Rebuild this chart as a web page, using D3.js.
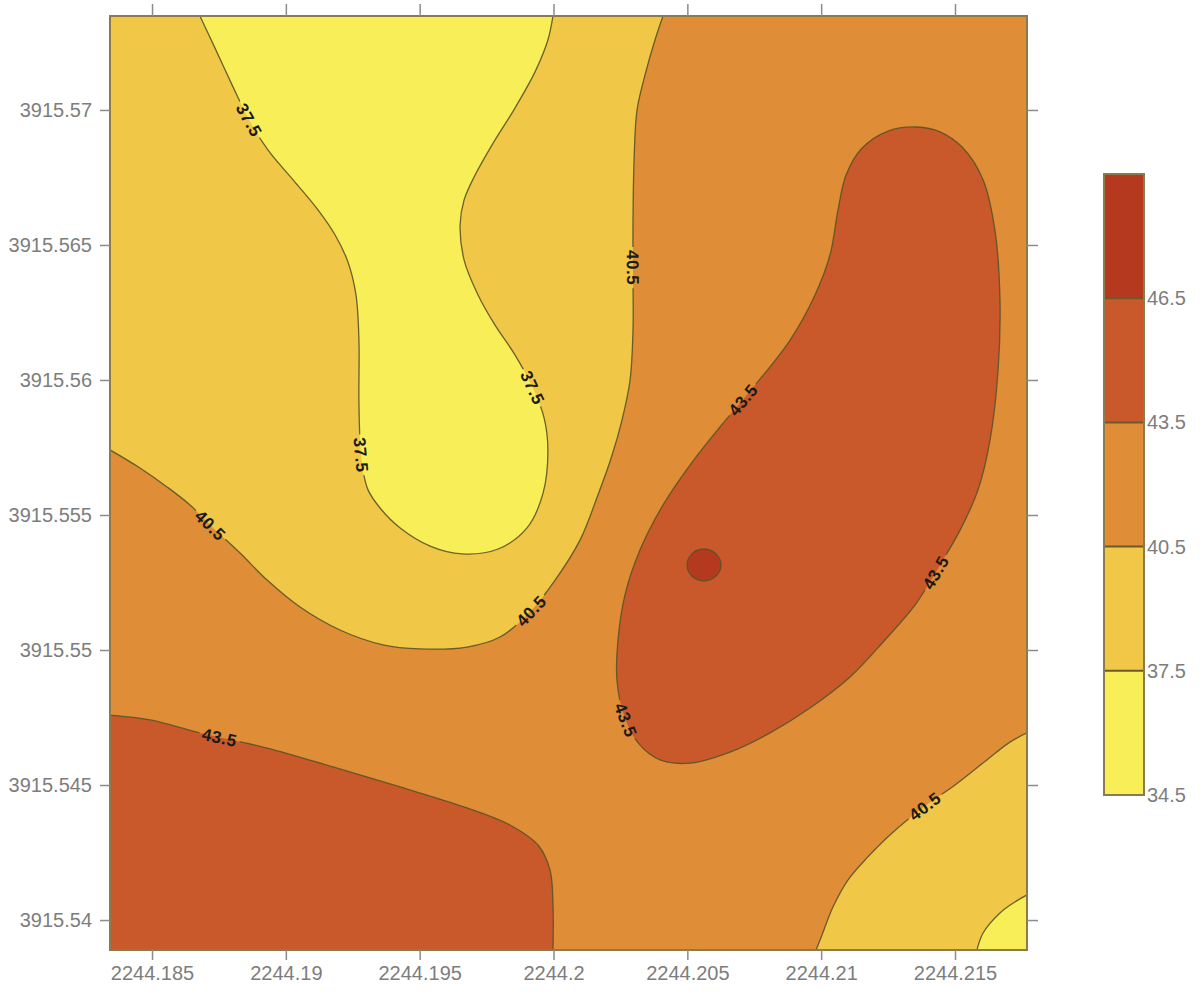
<!DOCTYPE html>
<html>
<head>
<meta charset="utf-8">
<script src="https://cdn.jsdelivr.net/npm/d3@7"></script>
<style>
  body { margin: 0; background: #ffffff; }
  svg { display: block; }
</style>
</head>
<body>
<svg id="chart" width="1204" height="994"></svg>
<script>
// ---- Survey extent (easting / northing, km) ----
const eastExtent = [2244.18343, 2244.21769];
const northExtent = [3915.53889, 3915.57348];

const eastTicks = [2244.185, 2244.19, 2244.195, 2244.2, 2244.205, 2244.21, 2244.215];
const eastTickLabels = ["2244.185", "2244.19", "2244.195", "2244.2", "2244.205", "2244.21", "2244.215"];
const northTicks = [3915.54, 3915.545, 3915.55, 3915.555, 3915.56, 3915.565, 3915.57];
const northTickLabels = ["3915.54", "3915.545", "3915.55", "3915.555", "3915.56", "3915.565", "3915.57"];

// ---- Contour classes ----
const levels = [34.5, 37.5, 40.5, 43.5, 46.5, 49.5];
const levelLabels = ["34.5", "37.5", "40.5", "43.5", "46.5"];
const bandColors = ["#f8ee57", "#f1c748", "#df8d36", "#c9592b", "#b5391f"];

// ---- Contour lines, [easting, northing] ----
// 37.5 line around the low in the north
const contour375North = [
  [2244.18679, 3915.57348], [2244.18735, 3915.57230], [2244.18799, 3915.57093],
  [2244.18859, 3915.56970], [2244.18933, 3915.56852], [2244.19034, 3915.56733],
  [2244.19120, 3915.56630], [2244.19184, 3915.56537], [2244.19232, 3915.56437],
  [2244.19262, 3915.56315], [2244.19273, 3915.56148], [2244.19273, 3915.55926],
  [2244.19277, 3915.55778], [2244.19288, 3915.55667], [2244.19307, 3915.55593],
  [2244.19352, 3915.55526], [2244.19427, 3915.55452], [2244.19539, 3915.55385],
  [2244.19658, 3915.55356], [2244.19793, 3915.55374], [2244.19901, 3915.55452],
  [2244.19961, 3915.55581], [2244.19979, 3915.55741], [2244.19965, 3915.55859],
  [2244.19923, 3915.55970], [2244.19856, 3915.56093], [2244.19781, 3915.56204],
  [2244.19718, 3915.56315], [2244.19666, 3915.56444], [2244.19651, 3915.56574],
  [2244.19666, 3915.56667], [2244.19707, 3915.56759], [2244.19770, 3915.56870],
  [2244.19856, 3915.57007], [2244.19931, 3915.57141], [2244.19979, 3915.57259],
  [2244.19998, 3915.57348]
];
// 40.5 line bounding the north-west low
const contour405North = [
  [2244.18343, 3915.55741], [2244.18455, 3915.55674], [2244.18556, 3915.55604],
  [2244.18642, 3915.55537], [2244.18724, 3915.55456], [2244.18829, 3915.55359],
  [2244.18930, 3915.55259], [2244.19053, 3915.55159], [2244.19202, 3915.55074],
  [2244.19363, 3915.55019], [2244.19501, 3915.55004], [2244.19677, 3915.55011],
  [2244.19800, 3915.55048], [2244.19912, 3915.55141], [2244.20006, 3915.55259],
  [2244.20099, 3915.55407], [2244.20166, 3915.55574], [2244.20219, 3915.55722],
  [2244.20256, 3915.55852], [2244.20286, 3915.56000], [2244.20297, 3915.56185],
  [2244.20297, 3915.56370], [2244.20297, 3915.56593], [2244.20301, 3915.56815],
  [2244.20312, 3915.57000], [2244.20342, 3915.57130], [2244.20379, 3915.57259],
  [2244.20409, 3915.57348]
];
// 43.5 line around the south-west high
const contour435SouthWest = [
  [2244.18343, 3915.54759], [2244.18493, 3915.54741], [2244.18679, 3915.54693],
  [2244.18930, 3915.54637], [2244.19176, 3915.54567], [2244.19427, 3915.54493],
  [2244.19677, 3915.54415], [2244.19837, 3915.54352], [2244.19942, 3915.54278],
  [2244.19987, 3915.54185], [2244.19998, 3915.54056], [2244.19998, 3915.53889]
];
// 43.5 closed line around the eastern high
const contour435East = [
  [2244.21358, 3915.56937], [2244.21444, 3915.56919], [2244.21530, 3915.56859],
  [2244.21605, 3915.56741], [2244.21649, 3915.56556], [2244.21668, 3915.56296],
  [2244.21661, 3915.56037], [2244.21631, 3915.55778], [2244.21586, 3915.55593],
  [2244.21519, 3915.55444], [2244.21444, 3915.55315], [2244.21351, 3915.55167],
  [2244.21238, 3915.55037], [2244.21108, 3915.54900], [2244.20958, 3915.54785],
  [2244.20809, 3915.54693], [2244.20659, 3915.54622], [2244.20510, 3915.54581],
  [2244.20398, 3915.54593], [2244.20316, 3915.54656], [2244.20263, 3915.54759],
  [2244.20237, 3915.54889], [2244.20241, 3915.55037], [2244.20267, 3915.55204],
  [2244.20323, 3915.55370], [2244.20409, 3915.55537], [2244.20510, 3915.55685],
  [2244.20622, 3915.55826], [2244.20753, 3915.55981], [2244.20884, 3915.56148],
  [2244.20977, 3915.56315], [2244.21033, 3915.56463], [2244.21063, 3915.56630],
  [2244.21093, 3915.56759], [2244.21153, 3915.56859], [2244.21250, 3915.56922]
];
// 46.5 closed line, peak inside the eastern high
const contour465Peak = [
  [2244.20562, 3915.55374], [2244.20607, 3915.55356], [2244.20626, 3915.55315],
  [2244.20607, 3915.55274], [2244.20562, 3915.55256], [2244.20517, 3915.55274],
  [2244.20499, 3915.55315], [2244.20517, 3915.55356]
];
// 40.5 line across the south-east corner
const contour405SouthEast = [
  [2244.20981, 3915.53889], [2244.21003, 3915.53944], [2244.21044, 3915.54048],
  [2244.21100, 3915.54148], [2244.21171, 3915.54230], [2244.21257, 3915.54315],
  [2244.21388, 3915.54422], [2244.21500, 3915.54500], [2244.21619, 3915.54593],
  [2244.21705, 3915.54659], [2244.21769, 3915.54693]
];
// 37.5 line cutting the south-east corner
const contour375SouthEast = [
  [2244.21582, 3915.53889], [2244.21605, 3915.53952], [2244.21668, 3915.54026],
  [2244.21724, 3915.54067], [2244.21769, 3915.54093]
];

// Contour labels placed along the lines
const contourLabels = [
  { text: "37.5", e: 2244.18851, n: 3915.56956 },
  { text: "37.5", e: 2244.19277, n: 3915.55722 },
  { text: "37.5", e: 2244.19916, n: 3915.55970 },
  { text: "40.5", e: 2244.20297, n: 3915.56415 },
  { text: "40.5", e: 2244.18720, n: 3915.55463 },
  { text: "40.5", e: 2244.19912, n: 3915.55148 },
  { text: "43.5", e: 2244.18754, n: 3915.54678 },
  { text: "43.5", e: 2244.20719, n: 3915.55919 },
  { text: "43.5", e: 2244.21414, n: 3915.55296 },
  { text: "43.5", e: 2244.20275, n: 3915.54741 },
  { text: "40.5", e: 2244.21388, n: 3915.54422 }
];

// ---- Layout ----
const plot = { left: 110, right: 1027, top: 16, bottom: 950 };
const bar = { left: 1104, width: 40, top: 174, bottom: 795 };

const x = d3.scaleLinear().domain(eastExtent).range([plot.left, plot.right]);
const y = d3.scaleLinear().domain(northExtent).range([plot.bottom, plot.top]);

const svg = d3.select("#chart");
const defs = svg.append("defs");
defs.append("clipPath").attr("id", "plot-clip")
  .append("rect")
  .attr("x", plot.left).attr("y", plot.top)
  .attr("width", plot.right - plot.left).attr("height", plot.bottom - plot.top);

const openLine = d3.line().x(d => x(d[0])).y(d => y(d[1])).curve(d3.curveCatmullRom.alpha(0.5));
const closedLine = d3.line().x(d => x(d[0])).y(d => y(d[1])).curve(d3.curveCatmullRomClosed.alpha(0.5));

const W = eastExtent[0], E = eastExtent[1], S = northExtent[0], N = northExtent[1];

// Filled bands: each region is a contour plus the frame corners that close it
const regions = [
  { pts: contour405North, band: 1, corners: [[W, N]] },
  { pts: contour405SouthEast, band: 1, corners: [[E, S]] },
  { pts: contour375North, band: 0, corners: [] },
  { pts: contour375SouthEast, band: 0, corners: [[E, S]] },
  { pts: contour435SouthWest, band: 3, corners: [[W, S]] },
  { pts: contour435East, band: 3, closed: true },
  { pts: contour465Peak, band: 4, closed: true }
];

const fills = svg.append("g").attr("clip-path", "url(#plot-clip)");
fills.append("rect")
  .attr("x", plot.left).attr("y", plot.top)
  .attr("width", plot.right - plot.left).attr("height", plot.bottom - plot.top)
  .attr("fill", bandColors[2]);

function regionPath(r) {
  if (r.closed) return closedLine(r.pts);
  return openLine(r.pts) + r.corners.map(c => "L" + x(c[0]) + "," + y(c[1])).join("") + "Z";
}

fills.selectAll("path.band").data(regions).join("path")
  .attr("class", "band")
  .attr("d", regionPath)
  .attr("fill", r => bandColors[r.band]);

// Contour strokes, broken where labels sit
const mask = defs.append("mask").attr("id", "label-gaps")
  .attr("maskUnits", "userSpaceOnUse")
  .attr("x", 0).attr("y", 0).attr("width", 1204).attr("height", 994);
mask.append("rect").attr("x", 0).attr("y", 0).attr("width", 1204).attr("height", 994).attr("fill", "#fff");

const strokes = svg.append("g").attr("clip-path", "url(#plot-clip)")
  .append("g").attr("mask", "url(#label-gaps)");
const strokePaths = strokes.selectAll("path").data(regions).join("path")
  .attr("d", r => r.closed ? closedLine(r.pts) : openLine(r.pts))
  .attr("fill", "none")
  .attr("stroke", "#5a5328")
  .attr("stroke-width", 1.3)
  .attr("stroke-opacity", 0.9);

// Labels: snap to the nearest contour point and follow its direction
const pathNodes = strokePaths.nodes();
const labelLayer = svg.append("g").attr("clip-path", "url(#plot-clip)");
contourLabels.forEach(lab => {
  const tx = x(lab.e), ty = y(lab.n);
  let best = null;
  pathNodes.forEach(node => {
    const len = node.getTotalLength();
    for (let s = 0; s <= len; s += 1) {
      const p = node.getPointAtLength(s);
      const d2 = (p.x - tx) ** 2 + (p.y - ty) ** 2;
      if (!best || d2 < best.d2) best = { d2, node, s, len, p };
    }
  });
  const a = best.node.getPointAtLength(Math.max(0, best.s - 5));
  const b = best.node.getPointAtLength(Math.min(best.len, best.s + 5));
  let ang = Math.atan2(b.y - a.y, b.x - a.x) * 180 / Math.PI;
  if (ang > 90) ang -= 180;
  if (ang <= -90) ang += 180;
  const tr = `translate(${best.p.x},${best.p.y}) rotate(${ang})`;
  const t = labelLayer.append("text")
    .attr("transform", tr)
    .attr("text-anchor", "middle")
    .attr("dy", "0.36em")
    .attr("font-family", "'Liberation Sans', Arial, sans-serif")
    .attr("font-weight", "bold")
    .attr("font-size", 17)
    .attr("letter-spacing", 0.5)
    .attr("fill", "#1a1a1a")
    .text(lab.text);
  const w = t.node().getComputedTextLength() + 6;
  mask.append("rect")
    .attr("transform", tr)
    .attr("x", -w / 2).attr("y", -7).attr("width", w).attr("height", 14)
    .attr("fill", "#000");
});

// Frame
svg.append("rect")
  .attr("x", plot.left).attr("y", plot.top)
  .attr("width", plot.right - plot.left).attr("height", plot.bottom - plot.top)
  .attr("fill", "none").attr("stroke", "#8a7a4c").attr("stroke-width", 2);

// Axes
const tickFont = "'Liberation Sans', Arial, sans-serif";
function styleAxis(g) {
  g.select(".domain").remove();
  g.selectAll(".tick line").attr("stroke", "#8c8c8c").attr("stroke-width", 1.5);
  g.selectAll(".tick text").attr("fill", "#7d7d7d").attr("font-size", 20).attr("font-family", tickFont);
}
svg.append("g").attr("transform", `translate(0,${plot.bottom})`)
  .call(d3.axisBottom(x).tickValues(eastTicks).tickFormat((d, i) => eastTickLabels[i]).tickSize(10).tickPadding(6))
  .call(styleAxis);
svg.append("g").attr("transform", `translate(${plot.left},0)`)
  .call(d3.axisLeft(y).tickValues(northTicks).tickFormat((d, i) => northTickLabels[i]).tickSize(10).tickPadding(8))
  .call(styleAxis);
svg.append("g").attr("transform", `translate(0,${plot.top})`)
  .call(d3.axisTop(x).tickValues(eastTicks).tickFormat("").tickSize(12))
  .call(styleAxis);
svg.append("g").attr("transform", `translate(${plot.right},0)`)
  .call(d3.axisRight(y).tickValues(northTicks).tickFormat("").tickSize(11))
  .call(styleAxis);

// Colour bar
const c = d3.scaleLinear().domain([levels[0], levels[levels.length - 1]]).range([bar.bottom, bar.top]);
const cbar = svg.append("g");
cbar.selectAll("rect.band").data(d3.range(levels.length - 1)).join("rect")
  .attr("class", "band")
  .attr("x", bar.left).attr("width", bar.width)
  .attr("y", i => c(levels[i + 1]))
  .attr("height", i => c(levels[i]) - c(levels[i + 1]))
  .attr("fill", i => bandColors[i]);
cbar.selectAll("line.sep").data(levels.slice(1, -1)).join("line")
  .attr("class", "sep")
  .attr("x1", bar.left).attr("x2", bar.left + bar.width)
  .attr("y1", d => c(d)).attr("y2", d => c(d))
  .attr("stroke", "#6b5a2c").attr("stroke-width", 2);
cbar.append("rect")
  .attr("x", bar.left).attr("y", bar.top)
  .attr("width", bar.width).attr("height", bar.bottom - bar.top)
  .attr("fill", "none").attr("stroke", "#8a7a4c").attr("stroke-width", 2);
svg.append("g").attr("transform", `translate(${bar.left + bar.width},0)`)
  .call(d3.axisRight(c).tickValues(levels.slice(0, -1)).tickFormat((d, i) => levelLabels[i]).tickSize(0).tickPadding(3))
  .call(styleAxis);
</script>
</body>
</html>
